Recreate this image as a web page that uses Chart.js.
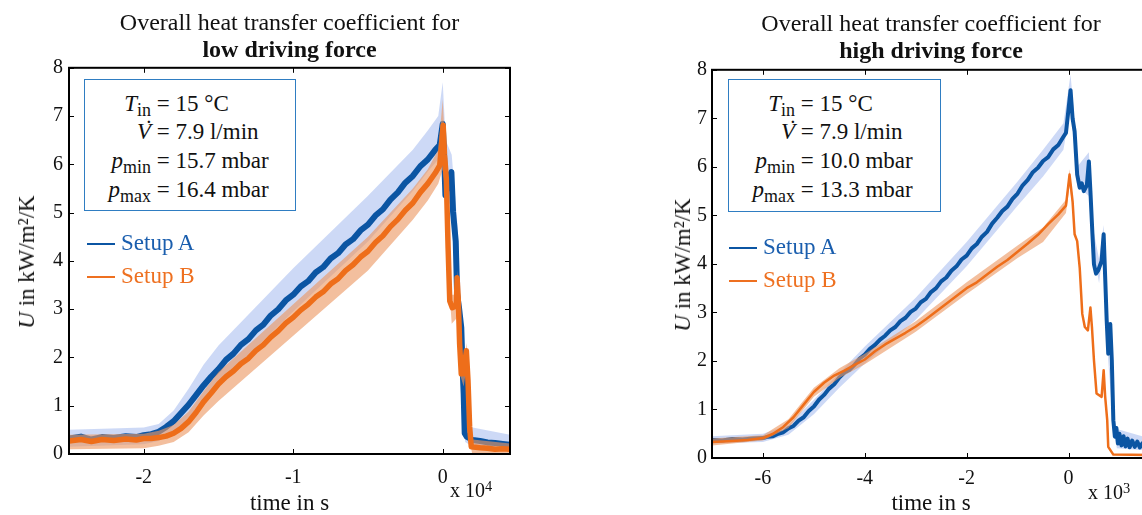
<!DOCTYPE html>
<html>
<head>
<meta charset="utf-8">
<script src="https://cdn.jsdelivr.net/npm/chart.js@4.4.1/dist/chart.umd.min.js"></script>
<style>
html, body { margin: 0; padding: 0; background: #fff; overflow: hidden; }
#wrap { position: relative; width: 1142px; height: 515px; overflow: hidden; font-family: 'Liberation Serif', 'Times New Roman', serif; color: #111; }
canvas { position: absolute; top: 0; }
#cLeft { left: 0; }
#cRight { left: 640px; }
.info { position: absolute; box-sizing: border-box; border: 1.5px solid #2F7DC2; background: #fff; font-size: 23px; }
.row { position: absolute; left: 0; height: 29px; line-height: 29px; white-space: nowrap; display: flex; }
.lhs { width: 66px; text-align: right; }
.lhs i { font-style: italic; }
.lhs sub { font-size: 0.78em; vertical-align: -0.28em; line-height: 0; }
.vdot { position: relative; font-style: italic; }
.vdot .dot { position: absolute; left: 8px; top: -5px; font-style: normal; }
.legend { position: absolute; font-size: 23px; }
.legend .item { position: absolute; left: 0; white-space: nowrap; }
.legend .sw { position: absolute; left: 0; top: 0; width: 28px; height: 2px; }
.legend .tx { position: absolute; left: 34px; top: -15px; line-height: 30px; }
.ytitle { position: absolute; font-size: 23px; white-space: nowrap; transform: translate(-50%, -50%) rotate(-90deg); }
.mult { position: absolute; font-size: 20px; white-space: nowrap; }
.mult sup { font-size: 0.72em; vertical-align: 0.45em; line-height: 0; }
</style>
</head>
<body>
<div id="wrap">
  <canvas id="cLeft" width="560" height="515"></canvas>
  <canvas id="cRight" width="520" height="515"></canvas>

  <div class="info" style="left:84px; top:79px; width:212px; height:132px;">
    <div class="row" style="top:9px;"><span class="lhs"><i>T</i><sub>in</sub></span><span>&nbsp;= 15 °C</span></div>
    <div class="row" style="top:37px;"><span class="lhs"><span class="vdot">V<span class="dot">˙</span></span></span><span>&nbsp;= 7.9 l/min</span></div>
    <div class="row" style="top:66px;"><span class="lhs"><i>p</i><sub>min</sub></span><span>&nbsp;= 15.7 mbar</span></div>
    <div class="row" style="top:95px;"><span class="lhs"><i>p</i><sub>max</sub></span><span>&nbsp;= 16.4 mbar</span></div>
  </div>
  <div class="info" style="left:728px; top:79px; width:213px; height:133px;">
    <div class="row" style="top:9px;"><span class="lhs"><i>T</i><sub>in</sub></span><span>&nbsp;= 15 °C</span></div>
    <div class="row" style="top:37px;"><span class="lhs"><span class="vdot">V<span class="dot">˙</span></span></span><span>&nbsp;= 7.9 l/min</span></div>
    <div class="row" style="top:66px;"><span class="lhs"><i>p</i><sub>min</sub></span><span>&nbsp;= 10.0 mbar</span></div>
    <div class="row" style="top:95px;"><span class="lhs"><i>p</i><sub>max</sub></span><span>&nbsp;= 13.3 mbar</span></div>
  </div>

  <div class="legend" style="left:87px; top:243px;">
    <div class="item" style="top:0;"><span class="sw" style="background:#0B55A3"></span><span class="tx" style="color:#1A5EAE">Setup A</span></div>
    <div class="item" style="top:33px;"><span class="sw" style="background:#EE7020"></span><span class="tx" style="color:#EE7020">Setup B</span></div>
  </div>
  <div class="legend" style="left:729px; top:247px;">
    <div class="item" style="top:0;"><span class="sw" style="background:#0B55A3"></span><span class="tx" style="color:#1A5EAE">Setup A</span></div>
    <div class="item" style="top:33px;"><span class="sw" style="background:#EE7020"></span><span class="tx" style="color:#EE7020">Setup B</span></div>
  </div>

  <div class="ytitle" style="left:27px; top:262px;"><i>U</i> in kW/m²/K</div>
  <div class="ytitle" style="left:683px; top:265px;"><i>U</i> in kW/m²/K</div>
  <div class="mult" style="left:450px; top:479px;">x 10<sup>4</sup></div>
  <div class="mult" style="left:1088px; top:481px;">x 10<sup>3</sup></div>
</div>

<script>
// ---- low driving force (time in 10^4 s) ----
var lowX = [-2.50, -2.42, -2.35, -2.28, -2.20, -2.12, -2.05, -2.00, -1.95, -1.90, -1.85, -1.80, -1.75, -1.70, -1.65, -1.60, -1.55, -1.50, -1.45, -1.40, -1.35, -1.30, -1.25, -1.20, -1.15, -1.10, -1.05, -1.00, -0.95, -0.90, -0.85, -0.80, -0.75, -0.70, -0.65, -0.60, -0.55, -0.50, -0.45, -0.40, -0.35, -0.30, -0.25, -0.20, -0.15, -0.10, -0.05, -0.02];
var lowA = [0.32, 0.36, 0.30, 0.35, 0.33, 0.37, 0.35, 0.39, 0.41, 0.46, 0.56, 0.68, 0.85, 1.02, 1.22, 1.42, 1.60, 1.76, 1.95, 2.08, 2.26, 2.38, 2.56, 2.68, 2.87, 3.00, 3.18, 3.30, 3.47, 3.58, 3.76, 3.87, 4.05, 4.16, 4.34, 4.45, 4.63, 4.75, 4.94, 5.07, 5.27, 5.42, 5.62, 5.76, 5.96, 6.10, 6.30, 6.40];
var lowB = [0.27, 0.30, 0.26, 0.30, 0.28, 0.31, 0.29, 0.32, 0.32, 0.34, 0.37, 0.43, 0.53, 0.67, 0.86, 1.08, 1.26, 1.45, 1.60, 1.72, 1.87, 1.98, 2.14, 2.26, 2.42, 2.55, 2.71, 2.83, 2.98, 3.10, 3.25, 3.36, 3.52, 3.63, 3.80, 3.92, 4.08, 4.20, 4.38, 4.52, 4.71, 4.86, 5.05, 5.20, 5.42, 5.60, 5.82, 5.98];
// shutdown part after t = 0
var lowAEndX = [0.000, 0.010, 0.018, 0.030, 0.058, 0.069, 0.087, 0.096, 0.109, 0.124, 0.131, 0.140, 0.147, 0.160, 0.200, 0.250, 0.300, 0.350, 0.400, 0.450];
var lowAEnd = [6.84, 6.10, 5.36, 5.60, 5.84, 5.02, 4.40, 3.31, 3.03, 2.62, 1.93, 1.25, 0.43, 0.36, 0.29, 0.27, 0.24, 0.23, 0.21, 0.19];
var lowBEndX = [0.003, 0.012, 0.024, 0.036, 0.047, 0.064, 0.091, 0.096, 0.104, 0.113, 0.124, 0.140, 0.158, 0.169, 0.180, 0.191, 0.250, 0.300, 0.350, 0.400, 0.450];
var lowBEnd = [6.81, 6.20, 5.71, 4.27, 3.17, 3.03, 3.07, 3.65, 3.20, 2.28, 1.66, 1.66, 2.14, 1.52, 0.56, 0.15, 0.13, 0.12, 0.10, 0.11, 0.10];
// scatter bands
var lowBandAX = [-2.5, -2.0, -1.9, -1.8, -1.7, -1.6, -1.5, -1.0, -0.5, -0.2, -0.1, -0.03, 0.0, 0.02, 0.06, 0.10, 0.13, 0.15, 0.20, 0.45];
var lowBandAHi = [0.50, 0.55, 0.62, 0.90, 1.35, 1.85, 2.25, 3.85, 5.35, 6.30, 6.70, 7.00, 7.70, 6.50, 6.20, 4.70, 2.60, 0.70, 0.55, 0.40];
var lowBandALo = [0.15, 0.20, 0.27, 0.45, 0.75, 1.15, 1.45, 2.95, 4.40, 5.45, 5.85, 6.10, 6.30, 5.00, 5.30, 2.90, 1.70, 0.25, 0.15, 0.08];
var lowBandBX = [-2.5, -2.0, -1.9, -1.8, -1.7, -1.6, -1.5, -1.0, -0.5, -0.2, -0.1, -0.03, 0.0, 0.02, 0.04, 0.06, 0.09, 0.10, 0.12, 0.14, 0.16, 0.18, 0.20, 0.45];
var lowBandBHi = [0.40, 0.42, 0.48, 0.60, 0.88, 1.30, 1.70, 3.10, 4.50, 5.50, 5.90, 6.30, 7.35, 6.10, 4.30, 3.30, 3.30, 3.80, 2.20, 1.90, 2.30, 0.80, 0.30, 0.22];
var lowBandBLo = [0.10, 0.12, 0.17, 0.25, 0.45, 0.80, 1.10, 2.45, 3.80, 4.85, 5.25, 5.60, 5.90, 5.30, 3.60, 2.70, 2.80, 3.00, 1.60, 1.40, 1.80, 0.30, -0.05, -0.10];

// ---- high driving force (time in 10^3 s) ----
var highAX = [-7.0, -6.8, -6.6, -6.4, -6.2, -6.0, -5.9, -5.8, -5.7, -5.6, -5.5, -5.4, -5.3, -5.2, -5.1, -5.0, -4.9, -4.8, -4.7, -4.6, -4.5, -4.4, -4.3, -4.2, -4.1, -4.0, -3.9, -3.8, -3.7, -3.6, -3.5, -3.4, -3.3, -3.2, -3.1, -3.0, -2.9, -2.8, -2.7, -2.6, -2.5, -2.4, -2.3, -2.2, -2.1, -2.0, -1.9, -1.8, -1.7, -1.6, -1.5, -1.4, -1.3, -1.2, -1.1, -1.0, -0.9, -0.8, -0.7, -0.6, -0.5, -0.4, -0.3, -0.2, -0.1, -0.05, 0.04, 0.08, 0.12, 0.17, 0.22, 0.26, 0.30, 0.36, 0.40, 0.43, 0.47, 0.50, 0.54, 0.58, 0.65, 0.69, 0.72, 0.75, 0.78, 0.82, 0.85, 0.88, 0.91, 0.94, 0.97, 1.00, 1.04, 1.08, 1.12, 1.16, 1.20, 1.25, 1.30, 1.35, 1.40, 1.45, 1.50, 1.60];
var highA = [0.37, 0.36, 0.39, 0.38, 0.40, 0.41, 0.44, 0.45, 0.50, 0.53, 0.61, 0.66, 0.77, 0.84, 0.97, 1.06, 1.20, 1.30, 1.43, 1.52, 1.66, 1.76, 1.82, 1.92, 2.05, 2.13, 2.25, 2.33, 2.44, 2.52, 2.63, 2.70, 2.82, 2.89, 3.01, 3.08, 3.21, 3.28, 3.42, 3.50, 3.64, 3.72, 3.86, 3.95, 4.09, 4.17, 4.32, 4.41, 4.56, 4.66, 4.83, 4.95, 5.09, 5.18, 5.34, 5.45, 5.62, 5.73, 5.89, 5.98, 6.12, 6.20, 6.36, 6.45, 6.62, 6.70, 7.58, 7.00, 6.73, 5.84, 5.57, 5.66, 5.50, 5.62, 6.11, 5.50, 4.61, 3.99, 3.80, 3.86, 4.06, 4.61, 3.72, 2.83, 2.15, 2.76, 2.02, 0.78, 0.44, 0.62, 0.30, 0.50, 0.26, 0.45, 0.24, 0.40, 0.22, 0.36, 0.23, 0.34, 0.22, 0.30, 0.21, 0.24];
var highBX = [-7.0, -6.8, -6.6, -6.3, -6.0, -5.8, -5.6, -5.4, -5.2, -5.0, -4.8, -4.6, -4.4, -4.2, -4.0, -3.8, -3.6, -3.4, -3.2, -3.0, -2.8, -2.6, -2.4, -2.2, -2.0, -1.8, -1.6, -1.4, -1.2, -1.0, -0.8, -0.6, -0.4, -0.2, -0.05, 0.02, 0.08, 0.12, 0.17, 0.22, 0.27, 0.32, 0.38, 0.43, 0.46, 0.50, 0.55, 0.65, 0.69, 0.72, 0.76, 0.78, 0.88, 1.60];
var highB = [0.33, 0.34, 0.35, 0.37, 0.41, 0.50, 0.64, 0.84, 1.10, 1.36, 1.55, 1.70, 1.80, 1.92, 2.03, 2.20, 2.34, 2.46, 2.58, 2.71, 2.86, 3.02, 3.18, 3.34, 3.50, 3.62, 3.78, 3.94, 4.08, 4.25, 4.42, 4.60, 4.82, 5.02, 5.20, 5.84, 5.29, 4.61, 4.47, 3.92, 2.97, 2.70, 2.63, 3.10, 2.70, 2.01, 1.33, 1.26, 1.81, 1.26, 0.78, 0.23, 0.07, 0.06];
var highBandAX = [-7.0, -6.0, -5.5, -5.0, -4.5, -4.0, -3.0, -2.0, -1.0, -0.5, -0.1, 0.04, 0.10, 0.17, 0.40, 0.47, 0.60, 0.69, 0.78, 0.88, 0.95, 1.60];
var highBandAHi = [0.45, 0.50, 0.68, 1.20, 1.75, 2.30, 3.30, 4.45, 5.70, 6.35, 6.90, 7.90, 7.20, 6.00, 6.30, 4.80, 4.10, 4.80, 2.30, 0.90, 0.60, 0.40];
var highBandALo = [0.30, 0.33, 0.48, 0.90, 1.45, 1.95, 2.85, 3.95, 5.20, 5.80, 6.35, 7.20, 6.60, 5.60, 5.40, 4.40, 3.60, 4.40, 2.00, 0.60, 0.20, 0.15];
var highBandBX = [-7.0, -6.0, -5.5, -5.0, -4.5, -4.0, -3.0, -2.0, -1.0, -0.5, -0.05, 0.02, 0.08, 0.12];
var highBandBHi = [0.40, 0.47, 0.80, 1.45, 1.85, 2.15, 2.82, 3.62, 4.38, 4.75, 5.32, 5.95, 5.40, 4.70];
var highBandBLo = [0.26, 0.36, 0.62, 1.26, 1.65, 1.93, 2.60, 3.38, 4.12, 4.45, 5.05, 5.60, 5.18, 4.50];

var yTicks = [0, 1, 2, 3, 4, 5, 6, 7, 8];
var lowXTicks = [-2, -1, 0];
var highXTicks = [-6, -4, -2, 0];

var FONT = "'Liberation Serif', 'Times New Roman', serif";
var BLUE = '#0B55A3', ORANGE = '#EE6E1A';
var BAND_BLUE = 'rgba(182,199,242,0.68)', BAND_ORANGE = 'rgba(236,152,98,0.62)';

function pts(xs, ys) {
    return xs.map(function (x, i) { return {x: x, y: ys[i]}; });
}

// inward ticks on all four sides plus the box frame
var frameTicks = {
    id: 'frameTicks',
    afterDraw: function (chart) {
        var ctx = chart.ctx, a = chart.chartArea;
        var xs = chart.scales.x, ys = chart.scales.y;
        ctx.save();
        ctx.strokeStyle = '#000';
        ctx.lineWidth = 1;
        ctx.beginPath();
        xs.ticks.forEach(function (t) {
            var p = Math.round(xs.getPixelForValue(t.value)) + 0.5;
            ctx.moveTo(p, a.bottom); ctx.lineTo(p, a.bottom - 5);
            ctx.moveTo(p, a.top); ctx.lineTo(p, a.top + 5);
        });
        ys.ticks.forEach(function (t) {
            var p = Math.round(ys.getPixelForValue(t.value)) + 0.5;
            ctx.moveTo(a.left, p); ctx.lineTo(a.left + 5, p);
            ctx.moveTo(a.right, p); ctx.lineTo(a.right - 5, p);
        });
        ctx.stroke();
        ctx.lineWidth = 2;
        ctx.strokeRect(a.left, a.top, a.right - a.left, a.bottom - a.top);
        ctx.restore();
    }
};

function band(data, color, order, fill) {
    return {data: data, borderWidth: 0, borderColor: 'transparent', backgroundColor: color,
        pointRadius: 0, fill: fill, order: order};
}
function line(data, color, width, order) {
    return {data: data, borderColor: color, borderWidth: width, pointRadius: 0, fill: false,
        tension: 0, borderJoinStyle: 'round', order: order};
}

function makeChart(id, o) {
    return new Chart(document.getElementById(id), {
        type: 'line',
        data: {
            datasets: [
                band(pts(o.bandAX, o.bandAHi), BAND_BLUE, 6, '+1'),
                band(pts(o.bandAX, o.bandALo), BAND_BLUE, 5, false),
                line(o.lineA, BLUE, o.wA, 4),
                band(pts(o.bandBX, o.bandBHi), BAND_ORANGE, 3, '+1'),
                band(pts(o.bandBX, o.bandBLo), BAND_ORANGE, 2, false),
                line(o.lineB, ORANGE, o.wB, 1)
            ]
        },
        options: {
            responsive: false,
            animation: false,
            events: [],
            layout: {padding: {left: 0, right: o.padRight, top: 0, bottom: 0}},
            plugins: {
                legend: {display: false},
                tooltip: {enabled: false},
                title: {
                    display: true, text: 'Overall heat transfer coefficient for', fullSize: false,
                    color: '#111', font: {family: FONT, size: 24, weight: 'normal', lineHeight: 1.1},
                    padding: {top: o.titleTop, bottom: 0}
                },
                subtitle: {
                    display: true, text: o.subtitle, fullSize: false,
                    color: '#111', font: {family: FONT, size: 24, weight: 'bold', lineHeight: 1.1},
                    padding: {top: 0, bottom: o.subBottom}
                }
            },
            scales: {
                x: {
                    type: 'linear', min: o.xMin, max: o.xMax,
                    afterBuildTicks: function (s) { s.ticks = o.xTicks.map(function (v) { return {value: v}; }); },
                    afterFit: function (s) { s.height = o.xHeight; },
                    grid: {display: false, drawTicks: false},
                    border: {display: false},
                    ticks: {autoSkip: false, maxRotation: 0, padding: o.xPad, color: '#111',
                        font: {family: FONT, size: 20},
                        callback: function (v) { return String(v); }},
                    title: {display: true, text: 'time in s', color: '#111',
                        font: {family: FONT, size: 23, lineHeight: 1}, padding: {top: 0, bottom: 0}}
                },
                y: {
                    min: 0, max: 8,
                    afterBuildTicks: function (s) { s.ticks = yTicks.map(function (v) { return {value: v}; }); },
                    afterFit: function (s) { s.width = o.yWidth; },
                    grid: {display: false, drawTicks: false},
                    border: {display: false},
                    ticks: {autoSkip: false, padding: o.yPad, color: '#111', font: {family: FONT, size: 20}}
                }
            }
        },
        plugins: [frameTicks]
    });
}

makeChart('cLeft', {
    lineA: pts(lowX, lowA).concat(pts(lowAEndX, lowAEnd)),
    lineB: pts(lowX, lowB).concat(pts(lowBEndX, lowBEnd)),
    bandAX: lowBandAX, bandAHi: lowBandAHi, bandALo: lowBandALo,
    bandBX: lowBandBX, bandBHi: lowBandBHi, bandBLo: lowBandBLo,
    wA: 6, wB: 5.5,
    subtitle: 'low driving force',
    xMin: -2.5, xMax: 0.45, xTicks: lowXTicks,
    padRight: 50, yWidth: 69, yPad: 6, xHeight: 61, xPad: 12,
    titleTop: 11, subBottom: 4
});

makeChart('cRight', {
    lineA: pts(highAX, highA),
    lineB: pts(highBX, highB),
    bandAX: highBandAX, bandAHi: highBandAHi, bandALo: highBandALo,
    bandBX: highBandBX, bandBHi: highBandBHi, bandBLo: highBandBLo,
    wA: 4, wB: 2.5,
    subtitle: 'high driving force',
    xMin: -7, xMax: 1.6, xTicks: highXTicks,
    padRight: 10, yWidth: 72, yPad: 5, xHeight: 57, xPad: 9,
    titleTop: 12, subBottom: 5
});
</script>
</body>
</html>
